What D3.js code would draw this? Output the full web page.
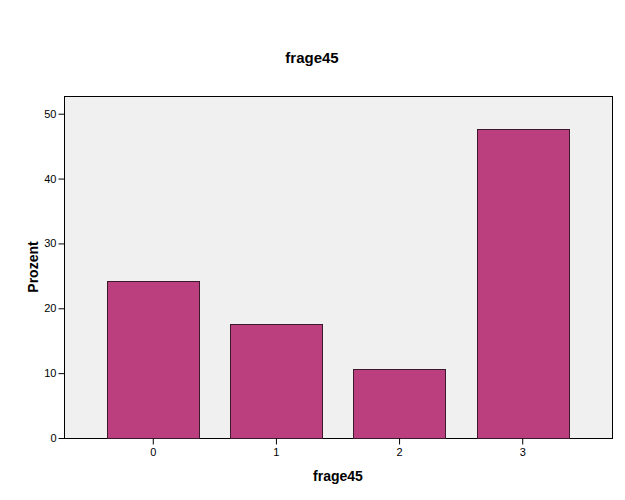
<!DOCTYPE html>
<html><head><meta charset="utf-8">
<script src="https://cdn.jsdelivr.net/npm/d3@7"></script>
<style>body{margin:0;background:#fff}svg{display:block}</style>
</head><body>
<svg id="c" width="625" height="500"></svg>
<script>
const categories = ["0", "1", "2", "3"];
const percents = [24.2, 17.5, 10.6, 47.6];
const yTicks = [0, 10, 20, 30, 40, 50];
const chartTitle = "frage45";
const xTitle = "frage45";
const yTitle = "Prozent";

const svg = d3.select("#c");
const L = 64, R = 612, T = 96, B = 438;
const font = "Arial, 'Liberation Sans', sans-serif";

const x = d3.scaleBand().domain(categories).range([L, R]).paddingInner(0.25).paddingOuter(0.35);
const y = d3.scaleLinear().domain([0, 52.73]).range([B, T]);

svg.append("rect").attr("x", L + 0.5).attr("y", T + 0.5).attr("width", R - L).attr("height", B - T)
  .attr("fill", "#f0f0f0").attr("stroke", "#000").attr("stroke-width", 1);

svg.selectAll("rect.bar").data(percents).join("rect").attr("class", "bar")
  .attr("x", (d, i) => Math.round(x(categories[i])) + 0.5)
  .attr("y", d => Math.round(y(d)) + 0.5)
  .attr("width", Math.round(x.bandwidth()))
  .attr("height", d => B - Math.round(y(d)))
  .attr("fill", "#bb3f7e").attr("stroke", "#3b1a2c").attr("stroke-width", 1);

const yAxis = svg.append("g").attr("transform", `translate(${L + 0.5},0)`)
  .call(d3.axisLeft(y).tickValues(yTicks).tickSize(6).tickSizeOuter(0).tickPadding(2).tickFormat(d3.format("d")));
const xAxis = svg.append("g").attr("transform", `translate(0,${B + 0.5})`)
  .call(d3.axisBottom(x).tickSize(6).tickSizeOuter(0).tickPadding(4));
[yAxis, xAxis].forEach(g => {
  g.select(".domain").remove();
  g.selectAll(".tick line").attr("stroke", "#000");
  g.selectAll(".tick text").attr("fill", "#000").style("font-family", font).style("font-size", "11px");
});

svg.append("text").attr("x", 312).attr("y", 63).attr("text-anchor", "middle")
  .style("font-family", font).style("font-size", "15px").style("font-weight", "bold").text(chartTitle);
svg.append("text").attr("x", 338).attr("y", 481).attr("text-anchor", "middle")
  .style("font-family", font).style("font-size", "14px").style("font-weight", "bold").text(xTitle);
svg.append("text").attr("transform", "translate(38,267) rotate(-90)").attr("text-anchor", "middle")
  .style("font-family", font).style("font-size", "14px").style("font-weight", "bold").text(yTitle);
</script>
</body></html>
